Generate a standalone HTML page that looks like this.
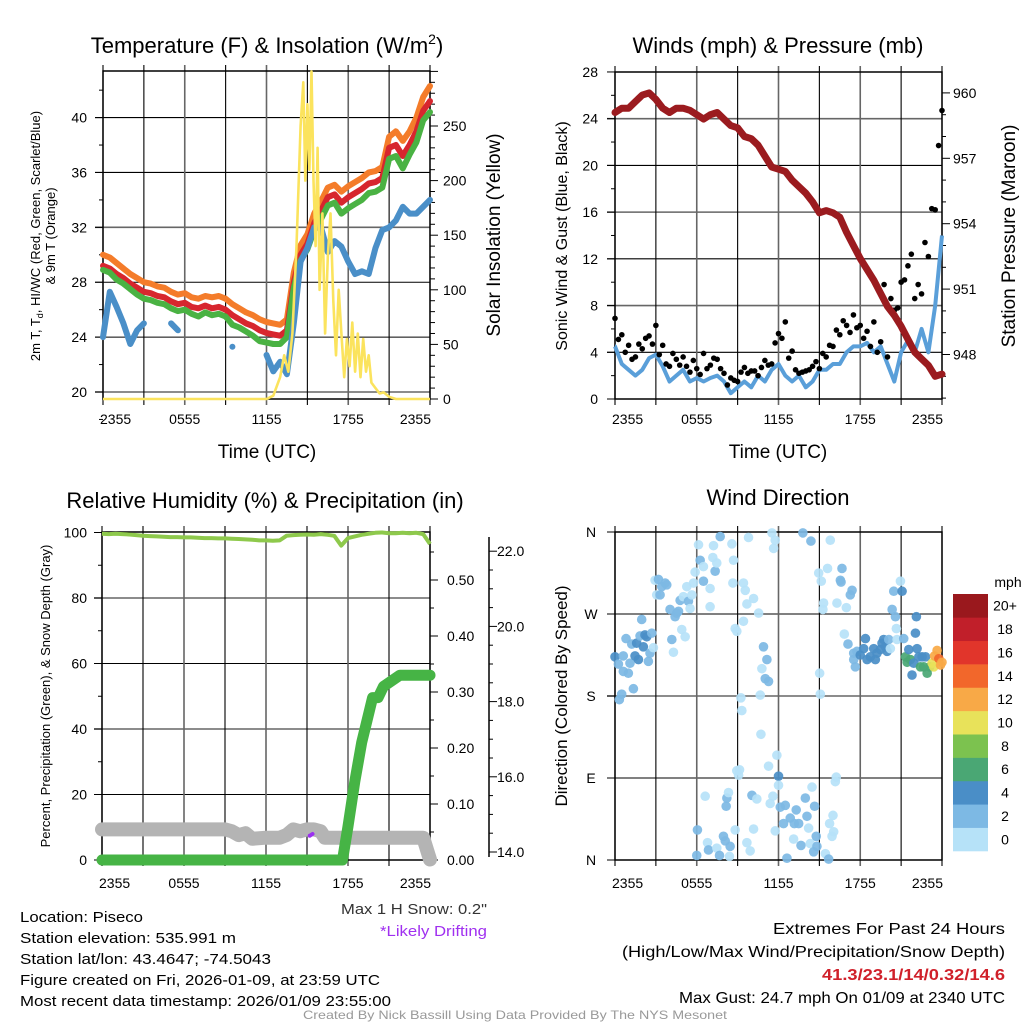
<!DOCTYPE html>
<html><head><meta charset="utf-8"><style>
html,body{margin:0;padding:0;background:#fff;}
svg{display:block;font-family:"Liberation Sans",Arial,sans-serif;}
</style></head><body>
<svg id="s" width="1024" height="1024" viewBox="0 0 1024 1024" xmlns="http://www.w3.org/2000/svg">
<rect width="1024" height="1024" fill="#fff"/>
</svg>
<script>
// ---------- Panel 1 data (half-hourly, 0..24h) ----------
const t9m = [30.0,29.8,29.4,29.0,28.6,28.3,28.0,27.9,27.7,27.6,27.3,27.1,27.2,26.9,26.8,27.0,26.9,27.0,26.8,26.4,26.1,25.8,25.6,25.3,25.1,25.0,24.9,25.3,28.7,30.7,31.5,33.0,33.9,34.9,35.1,34.6,35.0,35.3,35.6,36.0,36.1,36.4,38.6,39.0,38.3,39.0,40.0,41.5,42.3];
const t2m = [29.2,29.0,28.6,28.3,27.9,27.6,27.3,27.2,27.0,26.9,26.6,26.4,26.5,26.2,26.1,26.3,26.1,26.2,26.0,25.6,25.3,25.0,24.8,24.5,24.3,24.2,24.1,24.5,28.0,30.0,30.8,32.3,33.2,34.2,34.4,33.8,34.2,34.5,34.8,35.2,35.3,35.6,37.8,38.0,37.2,38.0,39.0,40.5,41.2];
const hiwc = [28.9,28.7,28.2,27.9,27.5,27.1,26.8,26.7,26.5,26.4,26.1,25.9,26.0,25.7,25.5,25.8,25.6,25.7,25.5,24.9,24.7,24.4,24.1,23.7,23.6,23.5,23.5,24.0,27.6,29.6,30.4,31.8,32.6,33.6,33.8,33.0,33.4,33.7,34.0,34.5,34.6,34.9,37.0,37.2,36.3,37.3,38.2,39.8,40.4];
const dewpt = [24.0,27.3,26.2,25.0,23.5,24.5,25.0,null,null,null,25.0,24.5,null,null,null,null,null,null,null,23.3,null,null,null,null,22.7,21.5,22.2,21.3,25.0,29.5,30.5,32.0,32.0,30.2,31.0,30.6,29.5,28.6,28.8,28.6,30.5,31.8,32.0,32.5,33.5,33.0,33.0,33.5,34.0];
const solarT = [0,12.0,12.5,13.0,13.3,13.6,13.9,14.2,14.5,14.7,14.85,15.0,15.15,15.3,15.45,15.6,15.75,15.9,16.1,16.3,16.5,16.7,16.9,17.1,17.3,17.5,17.7,17.9,18.1,18.3,18.5,18.7,18.9,19.1,19.3,19.5,19.7,20.0,20.3,20.6,21.0,21.5,22.0,24];
const solarV = [0,0,3,20,40,25,60,140,250,290,200,270,210,300,200,140,230,100,170,60,130,170,90,40,100,60,20,55,30,70,25,60,20,55,25,40,15,10,5,6,2,0,0,0];
const tempTicks = [20,24,28,32,36,40];
const solarTicks = [0,50,100,150,200,250];
const timeLabels = ["2355","0555","1155","1755","2355"];
// ---------- Panel 2 data ----------
const pressure = [959.1,959.3,959.3,959.6,959.9,960.0,959.7,959.3,959.1,959.3,959.3,959.2,959.0,958.8,959.0,959.1,958.8,958.5,958.4,958.0,957.9,957.6,957.1,956.6,956.5,956.4,956.0,955.7,955.4,955.0,954.5,954.6,954.5,954.3,953.6,953.0,952.4,951.9,951.4,950.8,950.2,949.8,949.3,948.7,948.1,947.8,947.5,947.0,947.1];
const windSpd = [4.5,3,2.5,2,2.5,3.5,3.8,2.8,1.5,2,2.5,1.5,1.8,1.5,1.8,2,1.5,0.5,1,1.5,1,2,1.5,2.5,3,2,1.5,2,1,1.5,2.5,2.5,3,3,4,4.5,4.5,4.8,4,4.5,3,1.5,4,5,4,6,4,8,14];
const gustA = [6.9,5.5,4.6,3.6,4.3,5.4,6.3,4.6,2.8,3.4,3.6,2.3,2.6,3.9,2.9,3.4,2.2,1.8,1.5,2.7,2.4,2.0,3.3,3.0,5.6,6.6,4.1,2.2,2.4,2.8,2.6,3.6,4.5,5.5,6.3,7.2,6.3,5.8,6.6,4.9,3.6,7.6,10.0,11.4,8.6,9.0,12.2,16.2,24.7];
const gustB = [5.1,4.0,3.4,4.7,5.2,4.7,3.8,3.0,3.9,2.9,2.8,3.3,2.1,2.6,3.5,2.6,1.2,1.6,2.3,2.2,2.4,2.7,2.9,4.8,5.2,3.5,2.5,2.3,2.5,3.2,3.9,4.6,5.9,6.7,5.7,6.1,5.2,4.5,4.0,9.8,8.6,7.8,10.2,12.4,9.8,13.4,16.3,21.7];
const windTicks = [0,4,8,12,16,20,24,28];
const presTicks = [948,951,954,957,960];
// ---------- Panel 3 data ----------
const rh = [99.6,99.5,99.6,99.5,99.4,99.2,99.0,98.9,98.8,98.7,98.6,98.6,98.5,98.5,98.4,98.3,98.3,98.2,98.2,98.1,98.0,97.9,97.8,97.6,97.6,97.5,97.6,99.0,99.2,99.3,99.4,99.3,99.5,99.3,99.0,96.0,98.3,98.8,99.3,99.6,99.9,100,99.8,99.8,99.9,99.8,99.9,99.5,96.5];
const precipT = [0,17.6,18.0,18.5,19.0,19.5,19.8,20.2,20.6,21.2,21.8,24];
const precipV = [0,0,0.06,0.14,0.21,0.26,0.29,0.29,0.31,0.32,0.33,0.33];
const snowT = [0,9.0,9.5,10.0,10.5,11.0,12.0,13.0,13.5,14.0,14.5,15.0,15.5,16.0,16.3,23.0,23.5,24];
const snowV = [14.6,14.6,14.55,14.45,14.5,14.35,14.38,14.38,14.45,14.6,14.55,14.6,14.6,14.55,14.38,14.38,14.38,13.8];
const driftT = [15.2,15.4];
const driftV = [14.43,14.48];
const rhTicks = [0,20,40,60,80,100];
const precipTicks = ["0.00","0.10","0.20","0.30","0.40","0.50"];
const snowTicks = ["14.0","16.0","18.0","20.0","22.0"];
// ---------- Panel 4 data ----------
const dirT = [0.0,0.25,0.32,0.49,0.61,0.61,0.81,0.98,1.10,1.23,1.35,1.47,1.59,1.72,1.84,1.96,2.08,2.2,2.33,2.45,2.57,2.7,2.82,
2.94,3.19,3.06,3.31,3.43,3.68,3.80,4.04,4.17,4.29,4.41,4.53,4.66,4.78,4.9,5.02,5.15,5.27,5.39,5.51,5.64,5.76,5.88,
6.13,6.25,6.49,6.49,6.98,6.98,7.23,7.18,7.35,7.47,7.72,8.58,8.70,8.65,8.82,8.94,9.43,9.56,9.68,10.17,10.54,9.43,9.8,
10.9,11.15,10.78,11.03,11.27,10.66,9.24,9.31,10.71,11.88,11.27,9.14,9.07,
11.52,11.76,11.64,13.79,14.38,15.8,14.95,15.6,15.14,16.66,16.54,16.59,17.4,17.27,15.31,15.26,16.29,16.98,16.83,17.1,17.52,17.64,15.02,15.07,
6.05,6.0,6.62,6.79,6.86,7.47,7.67,7.96,8.09,8.16,8.21,8.33,8.45,8.4,8.82,8.94,9.68,9.92,10.05,10.17,10.41,11.39,11.59,11.76,12.0,12.0,12.13,12.37,12.5,12.62,12.86,13.11,13.16,13.3,13.48,13.65,13.97,14.09,14.21,14.33,14.46,14.58,14.65,14.77,14.82,15.44,15.68,15.75,15.93,16.0,16.05,16.17,16.24,
17.52,17.76,18.0,18.25,18.38,18.5,18.74,18.99,19.11,19.23,19.48,19.6,19.72,19.85,19.97,20.09,20.21,20.34,20.46,20.58,20.65,20.7,20.95,21.07,21.19,21.32,21.44,21.56,21.68,21.8,21.93,22.05,22.12,22.17,22.3,22.42,22.54,22.66,22.79,22.91,23.1,23.28,23.4,23.45,23.64,23.77,23.89,24.0];
const dirV = [223,215,176,182,207,224,243,205,216,237,188,224,238,220,246,264,234,247,245,218,227,249,233,
307,308,291,291,300,304,302,275,242,228,267,271,273,285,253,289,245,300,284,276,291,304,316,
346,329,306,322,298,278,345,332,317,326,355,347,329,304,254,251,304,296,281,287,271,262,354,
234,220,210,199,196,181,178,164,138,115,103,99,93,
359,351,342,359,350,351,315,320,306,320,307,305,296,291,282,275,282,277,248,237,227,212,205,182,
33,5,70,19,11,13,5,26,21,59,68,74,15,4,33,98,19,10,71,34,67,62,70,32,92,82,58,40,60,2,46,23,40,55,40,16,68,48,35,18,80,9,59,26,15,7,1,40,26,49,31,86,91,
220,229,225,232,243,220,223,232,220,227,231,238,242,234,229,242,232,275,295,267,254,242,306,295,243,223,217,231,220,203,216,249,267,232,223,212,223,212,223,205,212,216,212,224,230,221,214,217];
const dirS = [5,3,3,3,3,3,3,3,3,3,3,5,5,5,3,3,5,5,5,3,3,3,1,
1,3,1,3,3,3,3,3,3,1,3,3,3,3,1,1,1,1,3,1,1,1,1,
1,3,3,1,1,1,1,1,3,1,3,1,1,1,1,1,1,1,1,1,1,1,1,
3,3,1,3,3,1,1,1,1,1,1,1,1,
1,1,1,3,3,1,1,1,1,3,3,3,3,3,1,1,1,1,1,3,3,3,1,1,
3,3,1,1,3,1,3,3,3,3,3,1,3,1,1,1,1,1,3,1,1,1,1,1,5,1,3,3,3,3,3,1,3,3,3,3,3,3,1,1,1,3,3,3,3,1,3,1,1,1,1,1,1,
3,3,5,5,5,5,5,5,5,5,5,5,5,5,5,3,1,3,3,3,1,1,1,5,3,7,7,5,7,5,5,5,5,5,5,7,5,7,5,7,7,10,10,13,13,15,13,13];
const dirLabels = ["N","E","S","W","N"];
const cbLabels = ["0","2","4","6","8","10","12","14","16","18","20+"];
const cbColors = ["#b6e2f8","#7db9e4","#4a8ec7","#4aa774","#7cc24f","#e8e25a","#f8a947","#f2672b","#e1352b","#c11f2a","#9a181d"];

// ---------- helpers ----------
const S = document.getElementById('s');
const NS = 'http://www.w3.org/2000/svg';
function mk(tag, attrs, parent){const e=document.createElementNS(NS,tag);for(const k in attrs)e.setAttribute(k,attrs[k]);(parent||S).appendChild(e);return e;}
function txt(str, x, y, size, anchor, parent, extra){const e=mk('text',Object.assign({x:x,y:y,'font-size':size,'text-anchor':anchor||'middle',fill:'#000'},extra||{}),parent);e.textContent=str;return e;}
function xs(t,x0,x1){return x0+t/24*(x1-x0);}
function halfT(i){return i*0.5;}

function frame(x0,y0,x1,y1,g){
  for(let i=0;i<=8;i++){
    const x=x0+(x1-x0)*i/8;
    const ln=mk('line',{x1:x,y1:y0-6,x2:x,y2:y1+6,stroke:(i%2==0&&i>0&&i<8)?'#666':'#000','stroke-width':(i%2==0&&i>0&&i<8)?1.6:1.1},g);
    
    
  }
  const r=mk('rect',{x:x0,y:y0,width:x1-x0,height:y1-y0,fill:'none',stroke:'#000','stroke-width':1.5},g);
  
  
}
function hgrid(y,x0,x1,g,gray){
  const l=mk('line',{x1:x0-8,y1:y,x2:x1,y2:y,stroke:gray?'#666':'#000','stroke-width':gray?1.6:1.1},g);
  
  
}
function xlabels(x0,x1,y,g){
  timeLabels.forEach((s,i)=>{
    let x=x0+(x1-x0)*i/4, a='middle';
    if(i==0){x=x0-3;a='start';}
    if(i==4){x=x1+1;a='end';}
    const e=txt(s,x,y,14,a,g);
    
    
  });
}
function pathFrom(ts,vs,fx,fy){
  let d='',pen=false;
  for(let i=0;i<ts.length;i++){
    if(vs[i]===null||vs[i]===undefined){pen=false;continue;}
    const x=fx(ts[i]),y=fy(vs[i]);
    if(!pen){d+=(d?' ':'')+'M'+x.toFixed(1)+','+y.toFixed(1)+' l0.01,0';pen=true;}
    else d+=' L'+x.toFixed(1)+','+y.toFixed(1);
  }
  return d;
}
const halfTimes = t2m.map((v,i)=>halfT(i));

// ================= PANEL 1 =================
(function(){
  const g=mk('g',{});  
  const X0=103,X1=430,Y0=71,Y1=399;
  const yT=v=>392-(v-20)*13.72, yS=v=>399-v*1.092, fx=t=>xs(t,X0,X1);
  tempTicks.forEach((v,i)=>hgrid(yT(v),X0,X1,g,i==0||i==3));
  frame(X0,Y0,X1,Y1,g);
  for(let v=18;v<=43;v+=2){const y=yT(v);if(y<Y0)continue;const t=mk('line',{x1:X0-(v%4==0?8:4),y1:y,x2:X0,y2:y,stroke:'#000'},g);}
  tempTicks.forEach(v=>{const e=txt(String(v),87,yT(v)+5,14,'end',g);});
  for(let v=0;v<=300;v+=10){const y=yS(v);if(y<Y0)continue;const t=mk('line',{x1:X1,y1:y,x2:X1+(v%50==0?8:5),y2:y,stroke:'#000'},g);}
  solarTicks.forEach(v=>{const e=txt(String(v),443,yS(v)+5,14,'start',g);});
  const series=[[t9m,'#f47c2a','9m-temp-line'],[t2m,'#d7262e','2m-temp-line'],[hiwc,'#4ab243','wind-chill-line'],[dewpt,'#4a8fc8','dewpoint-line']];
  series.forEach(s=>{const p=mk('path',{d:pathFrom(halfTimes,s[0],fx,yT),fill:'none',stroke:s[1],'stroke-width':6,'stroke-linejoin':'round','stroke-linecap':'round'},g);});
  const sp=mk('path',{d:pathFrom(solarT,solarV,fx,yS),fill:'none',stroke:'#fbe35d','stroke-width':2.6,'stroke-linejoin':'round'},g);
   
  const ti=txt('',267,53,22,'middle',g); ti.innerHTML='Temperature (F) &amp; Insolation (W/m<tspan dy="-9" font-size="14">2</tspan><tspan dy="9">)</tspan>';
   
  xlabels(X0,X1,424,g);
  const xl=txt('Time (UTC)',267,458,19,'middle',g);  
  const yl=txt('',0,0,13,'middle',g,{transform:'translate(40,236) rotate(-90)'});
  yl.innerHTML='<tspan x="0" dy="0">2m T, T<tspan font-size="9" dy="3">d</tspan><tspan dy="-3">, HI/WC (Red, Green, Scarlet/Blue)</tspan></tspan><tspan x="0" dy="15">&amp; 9m T (Orange)</tspan>';
   
  const yr=txt('Solar Insolation (Yellow)',0,0,19,'middle',g,{transform:'translate(500,235) rotate(-90)'});
   
})();

// ================= PANEL 2 =================
(function(){
  const g=mk('g',{});  
  const X0=615,X1=942,Y0=72,Y1=399;
  const yW=v=>399-v*11.68, yP=v=>354.5-(v-948)*21.8, fx=t=>xs(t,X0,X1);
  windTicks.forEach((v,i)=>{if(v>0&&v<28)hgrid(yW(v),X0,X1,g,i%2==0);});
  frame(X0,Y0,X1,Y1,g);
  for(let v=0;v<=28;v+=2){const t=mk('line',{x1:X0-(v%4==0?8:4),y1:yW(v),x2:X0,y2:yW(v),stroke:'#000'},g);}
  windTicks.forEach(v=>{const e=txt(String(v),598,yW(v)+5,14,'end',g);});
  for(let v=946;v<=961;v+=1){const y=yP(v);if(y<Y0||y>Y1)continue;const t=mk('line',{x1:X1,y1:y,x2:X1+((v-948)%3==0?8:4),y2:y,stroke:'#000'},g);}
  presTicks.forEach(v=>{const e=txt(String(v),953,yP(v)+5,14,'start',g);});
  const wl=mk('path',{d:pathFrom(halfTimes,windSpd,fx,yW),fill:'none',stroke:'#5a9fd9','stroke-width':4,'stroke-linejoin':'round'},g);
   
  gustA.forEach((v,i)=>{const c=mk('circle',{cx:fx(halfT(i)),cy:yW(v),r:2.8,fill:'#000'},g);});
  gustB.forEach((v,i)=>{const c=mk('circle',{cx:fx(halfT(i)+0.25),cy:yW(v),r:2.8,fill:'#000'},g);});
  const pl=mk('path',{d:pathFrom(halfTimes,pressure,fx,yP),fill:'none',stroke:'#9b1b1f','stroke-width':7,'stroke-linejoin':'round','stroke-linecap':'round'},g);
   
  const ti=txt('Winds (mph) & Pressure (mb)',778,53,22,'middle',g);  
  xlabels(X0,X1,424,g);
  const xl=txt('Time (UTC)',778,458,19,'middle',g);  
  const yl=txt('Sonic Wind & Gust (Blue, Black)',0,0,16,'middle',g,{transform:'translate(567,236) rotate(-90)'});  
  const yr=txt('Station Pressure (Maroon)',0,0,19,'middle',g,{transform:'translate(1015,236) rotate(-90)'});  
})();

// ================= PANEL 3 =================
(function(){
  const g=mk('g',{});  
  const X0=102,X1=430,Y0=532,Y1=860;
  const yR=v=>860-v*3.275, yPr=v=>860-v*560, ySn=v=>852-(v-14)*37.6, fx=t=>xs(t,X0,X1);
  rhTicks.forEach((v,i)=>{if(v>0&&v<100)hgrid(yR(v),X0,X1,g,i%2==0);});
  frame(X0,Y0,X1,Y1,g);
  for(let v=0;v<=100;v+=10){const t=mk('line',{x1:X0-(v%20==0?8:4),y1:yR(v),x2:X0,y2:yR(v),stroke:'#000'},g);}
  rhTicks.forEach(v=>{const e=txt(String(v),87,yR(v)+5,14,'end',g);});
  for(let v=0;v<=0.58;v+=0.05){const t=mk('line',{x1:X1,y1:yPr(v),x2:X1+(Math.round(v*100)%10==0?8:4),y2:yPr(v),stroke:'#000'},g);}
  precipTicks.forEach(s=>{const e=txt(s,447,yPr(parseFloat(s))+5,14,'start',g);});
  const sa=mk('line',{x1:489,y1:537,x2:489,y2:857,stroke:'#000','stroke-width':1.5},g);  
  for(let v=14;v<=22.2;v+=0.5){const t=mk('line',{x1:489,y1:ySn(v),x2:489+(Math.abs(v-Math.round(v/2)*2)<0.01?8:4),y2:ySn(v),stroke:'#000'},g);}
  snowTicks.forEach(s=>{const e=txt(s,497,ySn(parseFloat(s))+5,14,'start',g);});
  const sn=mk('path',{d:pathFrom(snowT,snowV,fx,ySn),fill:'none',stroke:'#b4b4b4','stroke-width':14,'stroke-linejoin':'round','stroke-linecap':'round'},g);
   
  const dr=mk('path',{d:pathFrom(driftT,driftV,fx,ySn),fill:'none',stroke:'#9b30f0','stroke-width':4,'stroke-linecap':'round'},g);
   
  const pr=mk('path',{d:pathFrom(precipT,precipV,fx,yPr),fill:'none',stroke:'#46b445','stroke-width':11,'stroke-linejoin':'round','stroke-linecap':'round'},g);
   
  const rl=mk('path',{d:pathFrom(halfTimes,rh,fx,yR),fill:'none',stroke:'#8ec94c','stroke-width':4,'stroke-linejoin':'round'},g);
   
  const ti=txt('Relative Humidity (%) & Precipitation (in)',265,508,22,'middle',g);  
  xlabels(X0,X1,888,g);
  const yl=txt('Percent, Precipitation (Green), & Snow Depth (Gray)',0,0,13,'middle',g,{transform:'translate(50,696) rotate(-90)'});  
})();

// ================= PANEL 4 =================
(function(){
  const g=mk('g',{});  
  const X0=615,X1=942,Y0=532,Y1=860;
  const yD=v=>860-v*328/360, fx=t=>xs(t,X0,X1);
  dirLabels.forEach((s,i)=>{if(i>0&&i<4)hgrid(yD(i*90),X0,X1,g,i==2);});
  frame(X0,Y0,X1,Y1,g);
  dirLabels.forEach((s,i)=>{const t=mk('line',{x1:X0-8,y1:yD(i*90),x2:X0,y2:yD(i*90),stroke:'#000'},g);
    const e=txt(s,591,yD(i*90)+5,14,'middle',g);});
  function col(s){let b=Math.floor(s/2);if(b>10)b=10;return cbColors[b];}
  dirT.forEach((t,i)=>{const c=mk('circle',{cx:fx(t),cy:yD(dirV[i]),r:4.8,fill:col(dirS[i]),'fill-opacity':0.92},g);});
  const ti=txt('Wind Direction',778,505,22,'middle',g);  
  xlabels(X0,X1,888,g);
  const yl=txt('Direction (Colored By Speed)',0,0,17,'middle',g,{transform:'translate(567,696) rotate(-90)'});  
  // colorbar
  const cb=mk('g',{},g);  
  const bh=(851-594)/11;
  cbColors.forEach((c,i)=>{const r=mk('rect',{x:953,y:851-(i+1)*bh,width:35,height:bh+0.3,fill:c},cb);});
  cbLabels.forEach((s,i)=>{const e=txt(s,1005,851-(i+0.5)*bh+5,14,'middle',cb);});
  const u=txt('mph',1008,587,14,'middle',cb);  
})();

// ================= Footer text =================
(function(){
  const g=mk('g',{});  
  const L=[['Location: Piseco',123,'location-text'],['Station elevation: 535.991 m',216,'elevation-text'],['Station lat/lon: 43.4647; -74.5043',251,'latlon-text'],['Figure created on Fri, 2026-01-09, at 23:59 UTC',360,'created-text'],['Most recent data timestamp: 2026/01/09 23:55:00',371,'timestamp-text']];
  L.forEach((l,i)=>{const e=txt(l[0],20,922+i*21,15,'start',g,{textLength:l[1],lengthAdjust:'spacingAndGlyphs'});});
  let e=txt('Max 1 H Snow: 0.2"',487,914,15,'end',g,{fill:'#333',textLength:146,lengthAdjust:'spacingAndGlyphs'});  
  e=txt('*Likely Drifting',487,936,15,'end',g,{fill:'#a030f0',textLength:107,lengthAdjust:'spacingAndGlyphs'});  
  const R=[['Extremes For Past 24 Hours',232,934,'extremes-heading',false],['(High/Low/Max Wind/Precipitation/Snow Depth)',383,957,'extremes-legend',false],['41.3/23.1/14/0.32/14.6',183,980,'extremes-values',true],['Max Gust: 24.7 mph On 01/09 at 2340 UTC',326,1003,'max-gust-text',false]];
  R.forEach(r=>{const o={textLength:r[1],lengthAdjust:'spacingAndGlyphs'};if(r[4]){o.fill='#d0202a';o['font-weight']='bold';}const e=txt(r[0],1005,r[2],16,'end',g,o);});
  e=txt('Created By Nick Bassill Using Data Provided By The NYS Mesonet',515,1019,12,'middle',g,{fill:'#999',textLength:424,lengthAdjust:'spacingAndGlyphs'});  
})();
</script>
</body></html>
